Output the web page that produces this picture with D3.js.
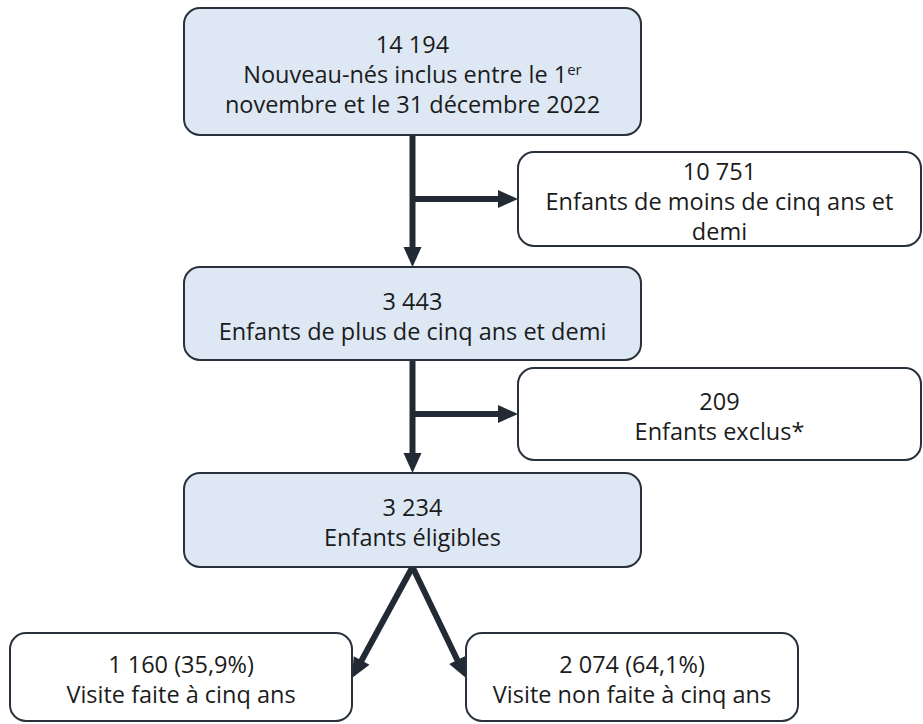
<!DOCTYPE html>
<meta charset="utf-8">
<title>Diagramme de flux</title>
<style>
  body { margin: 0; background: #fff; }
  svg { display: block; }
  .box text { font-family: "Open Sans", "Noto Sans", sans-serif; font-size: 23.5px; fill: #1b1b1b; }
</style>
<svg id="flow"></svg>
<script src="https://cdn.jsdelivr.net/npm/d3@7/dist/d3.min.js"></script>
<script>

// chiffres du diagramme
var nodeIds = ["n1", "x1", "n2", "x2", "n3", "o1", "o2"];
var counts  = ["14 194", "10 751", "3 443", "209", "3 234", "1 160 (35,9%)", "2 074 (64,1%)"];
var labels  = [
  ["Nouveau-nés inclus entre le 1|er", "novembre et le 31 décembre 2022"],
  ["Enfants de moins de cinq ans et", "demi"],
  ["Enfants de plus de cinq ans et demi"],
  ["Enfants exclus*"],
  ["Enfants éligibles"],
  ["Visite faite à cinq ans"],
  ["Visite non faite à cinq ans"]
];
var mainNodes = ["n1", "n2", "n3"];
var links = [
  {source: "n1", target: "n2", kind: "down"},
  {source: "n1", target: "x1", kind: "side"},
  {source: "n2", target: "n3", kind: "down"},
  {source: "n2", target: "x2", kind: "side"},
  {source: "n3", target: "o1", kind: "split"},
  {source: "n3", target: "o2", kind: "split"}
];

// mise en page (x, y, largeur, hauteur)
var layout = {
  n1: [184, 8, 457, 127],
  x1: [518, 152, 403, 94],
  n2: [184, 267, 457, 93],
  x2: [518, 368, 403, 92],
  n3: [184, 473, 457, 94],
  o1: [10, 633, 342, 88],
  o2: [466, 633, 332, 88]
};

var width = 923, height = 724
  , lineH = 30
  , ink = "#222a35";

var svg = d3.select("#flow")
    .attr("width", width)
    .attr("height", height);

var nodes = nodeIds.map(function(id, i) {
  var b = layout[id];
  return {id: id, x: b[0], y: b[1], w: b[2], h: b[3],
          lines: [counts[i]].concat(labels[i]),
          main: mainNodes.indexOf(id) >= 0};
});
var byId = {};
nodes.forEach(function(d) { byId[d.id] = d; });

// flèches
var arrows = svg.append("g").attr("class", "arrows");

function arrow(x1, y1, x2, y2) {
  var dx = x2 - x1, dy = y2 - y1, len = Math.sqrt(dx * dx + dy * dy);
  var ux = dx / len, uy = dy / len, head = 20, half = 9;
  arrows.append("line")
    .attr("x1", x1).attr("y1", y1)
    .attr("x2", x2 - ux * (head - 2)).attr("y2", y2 - uy * (head - 2))
    .attr("stroke", ink)
    .attr("stroke-width", 6);
  var bx = x2 - ux * head, by = y2 - uy * head;
  arrows.append("path")
    .attr("d", d3.line()([[x2, y2], [bx - uy * half, by + ux * half], [bx + uy * half, by - ux * half]]) + "Z")
    .attr("fill", ink);
}

links.forEach(function(l) {
  var s = byId[l.source], t = byId[l.target], cx = s.x + s.w / 2;
  if (l.kind == "down") {
    arrow(cx, s.y + s.h, cx, t.y);
  } else if (l.kind == "side") {
    arrow(cx, t.y + t.h / 2, t.x, t.y + t.h / 2);
  } else {
    var tx = t.x + t.w / 2 < cx ? t.x + t.w : t.x;
    arrow(cx, s.y + s.h, tx, t.y + 45);
  }
});

// boîtes
var box = svg.selectAll("g.box")
  .data(nodes)
  .enter().append("g")
    .attr("class", "box");

box.append("rect")
    .attr("x", function(d) { return d.x; })
    .attr("y", function(d) { return d.y; })
    .attr("width", function(d) { return d.w; })
    .attr("height", function(d) { return d.h; })
    .attr("rx", 16)
    .attr("fill", function(d) { return d.main ? "#dde8f4" : "#ffffff"; })
    .attr("stroke", "#29313c")
    .attr("stroke-width", 2);

box.each(function(d) {
  var g = d3.select(this)
    , n = d.lines.length
    , cx = d.x + d.w / 2
    , cy = d.y + d.h / 2 + 3;
  d.lines.forEach(function(line, i) {
    var t = g.append("text")
      .attr("x", cx)
      .attr("y", cy + (i - (n - 1) / 2) * lineH + 8)
      .attr("text-anchor", "middle");
    var parts = line.split("|");
    t.append("tspan").text(parts[0]);
    if (parts[1]) {
      t.append("tspan")
        .attr("dy", -8)
        .style("font-size", "15px")
        .text(parts[1]);
    }
  });
});
</script>
